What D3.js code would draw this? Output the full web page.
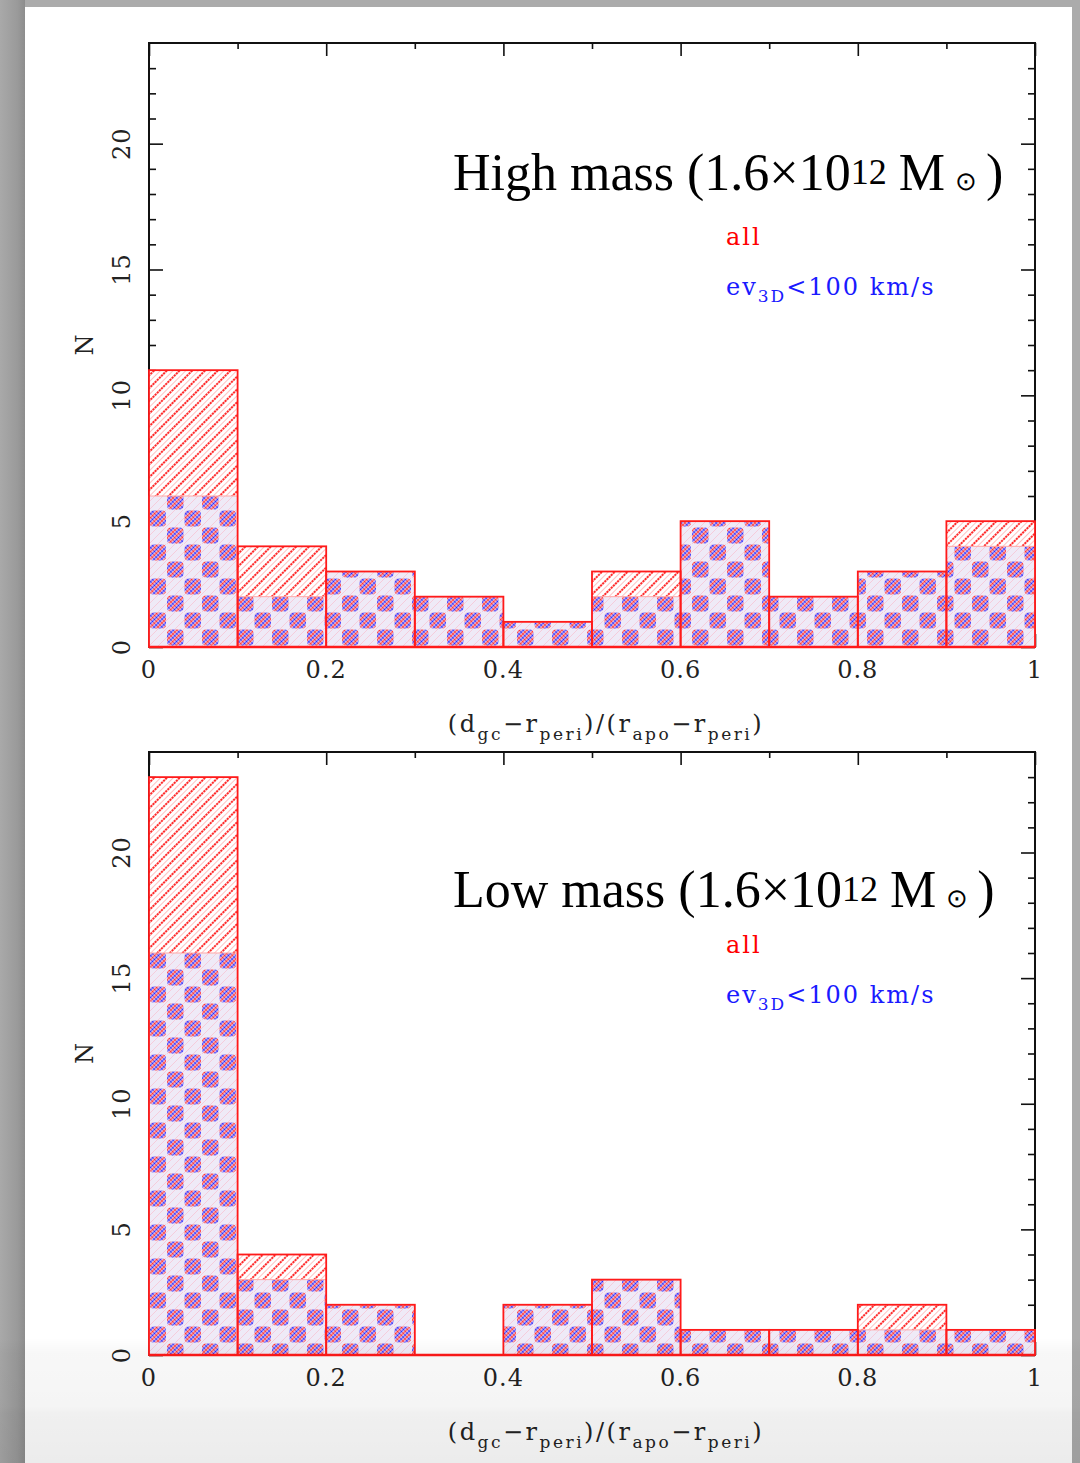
<!DOCTYPE html>
<html>
<head>
<meta charset="utf-8">
<script src="https://cdn.jsdelivr.net/npm/d3@7"></script>
<style>
  html, body { margin: 0; padding: 0; background: #ababab; }
  svg { display: block; }
</style>
</head>
<body>
<script>
// Histogram bins: lower edge of each bin, width 0.1
const binStarts = [0, 0.1, 0.2, 0.3, 0.4, 0.5, 0.6, 0.7, 0.8, 0.9];
const binWidth = 0.1;

// High mass halo: all satellites / those with ev_3D < 100 km/s
const highAll = [11, 4, 3, 2, 1, 3, 5, 2, 3, 5];
const highEv  = [6, 2, 3, 2, 1, 2, 5, 2, 3, 4];

// Low mass halo
const lowAll = [23, 4, 2, 0, 2, 3, 1, 1, 2, 1];
const lowEv  = [16, 3, 2, 0, 2, 3, 1, 1, 1, 1];

// Axis ticks and labels
const xTickValues = [0, 0.2, 0.4, 0.6, 0.8, 1];
const xTickLabels = ["0", "0.2", "0.4", "0.6", "0.8", "1"];
const xMinorTicks = [0.1, 0.3, 0.5, 0.7, 0.9];
const yTickValues = [0, 5, 10, 15, 20];
const yTickLabels = ["0", "5", "10", "15", "20"];
const yMinorTicks = [1,2,3,4,6,7,8,9,11,12,13,14,16,17,18,19,21,22,23];
const yDomain = [0, 24];

const W = 1080, H = 1463;
const svg = d3.select("body").append("svg")
  .attr("width", W).attr("height", H)
  .attr("viewBox", `0 0 ${W} ${H}`);

const defs = svg.append("defs");

// Left page-edge shadow
const sh = defs.append("linearGradient").attr("id", "leftShadow")
  .attr("x1", 0).attr("x2", 1).attr("y1", 0).attr("y2", 0);
sh.append("stop").attr("offset", "0%").attr("stop-color", "#a9a9a9");
sh.append("stop").attr("offset", "70%").attr("stop-color", "#9a9a9a");
sh.append("stop").attr("offset", "100%").attr("stop-color", "#8d8d8d");

// Bottom reflection fade
const fade = defs.append("linearGradient").attr("id", "bottomFade")
  .attr("x1", 0).attr("x2", 0).attr("y1", 0).attr("y2", 1);
fade.append("stop").attr("offset", "0%").attr("stop-color", "#000").attr("stop-opacity", 0);
fade.append("stop").attr("offset", "12%").attr("stop-color", "#000").attr("stop-opacity", 0.03);
fade.append("stop").attr("offset", "55%").attr("stop-color", "#000").attr("stop-opacity", 0.04);
fade.append("stop").attr("offset", "60%").attr("stop-color", "#000").attr("stop-opacity", 0.06);
fade.append("stop").attr("offset", "100%").attr("stop-color", "#000").attr("stop-opacity", 0.075);

// Red diagonal hatching for the "all" histogram
const hw = 9;
const hatch = defs.append("pattern").attr("id", "hatchRed")
  .attr("patternUnits", "userSpaceOnUse")
  .attr("width", hw).attr("height", hw)
  .attr("patternTransform", "rotate(45)");
hatch.append("rect").attr("width", hw).attr("height", hw).attr("fill", "#fff");
hatch.append("line").attr("x1", 2).attr("x2", 2).attr("y1", 0).attr("y2", hw)
  .attr("stroke", "#ff2020").attr("stroke-width", 1.9)
  .attr("stroke-dasharray", "2.2,0.8");
hatch.append("line").attr("x1", 6.5).attr("x2", 6.5).attr("y1", 0).attr("y2", hw)
  .attr("stroke", "#ffc2c2").attr("stroke-width", 1);

// Fine red/blue dot lines used inside the checker blobs
const dots = defs.append("pattern").attr("id", "dotLines")
  .attr("patternUnits", "userSpaceOnUse")
  .attr("width", 2.8).attr("height", 5.2)
  .attr("patternTransform", "rotate(-45)");
dots.append("rect").attr("width", 2.8).attr("height", 5.2).attr("fill", "#f3e0f0");
dots.append("circle").attr("cx", 1.4).attr("cy", 1.3).attr("r", 1.08).attr("fill", "#ff2424");
dots.append("circle").attr("cx", 1.4).attr("cy", 3.9).attr("r", 1.08).attr("fill", "#2424ff");

// Checkerboard of dot blobs for the ev_3D < 100 km/s histogram
const cw = 35, ch = 34;
const checker = defs.append("pattern").attr("id", "checker")
  .attr("patternUnits", "userSpaceOnUse")
  .attr("x", 149).attr("y", 0)
  .attr("width", cw).attr("height", ch);
checker.append("rect").attr("width", cw).attr("height", ch).attr("fill", "#efeaf7");
checker.append("path")
  .attr("d", "M0,8 L8,0 M0,17 L17,0 M0,26 L26,0 M0,34 L34,0 M9,34 L35,8 M18,34 L35,17 M27,34 L35,26")
  .attr("stroke", "#f6c8d8").attr("stroke-width", 0.9);
[[0.5, 0.5], [18, 17.5]].forEach(([bx, by]) => {
  checker.append("rect").attr("x", bx).attr("y", by)
    .attr("width", 16.5).attr("height", 16).attr("rx", 4)
    .attr("fill", "url(#dotLines)");
});

// Backdrop: grey surround and the white page
svg.append("rect").attr("width", W).attr("height", H).attr("fill", "#ababab");
svg.append("rect").attr("x", 0).attr("y", 0).attr("width", 25).attr("height", H)
  .attr("fill", "url(#leftShadow)");
svg.append("rect").attr("x", 25).attr("y", 7).attr("width", 1047).attr("height", H - 7)
  .attr("fill", "#ffffff");

const x = d3.scaleLinear().domain([0, 1]).range([149, 1035]);

const panels = [
  { top: 43, bottom: 647, all: highAll, ev: highEv, name: "High mass",
    titleY: 190, legendY: 245 },
  { top: 752, bottom: 1355, all: lowAll, ev: lowEv, name: "Low mass",
    titleY: 907, legendY: 953 }
];

const tickFont = "'DejaVu Serif', serif";

panels.forEach(p => {
  const y = d3.scaleLinear().domain(yDomain).range([p.bottom, p.top]);
  const g = svg.append("g");

  // Frame
  g.append("rect")
    .attr("x", x(0)).attr("y", y(yDomain[1]))
    .attr("width", x(1) - x(0)).attr("height", y(0) - y(yDomain[1]))
    .attr("fill", "none").attr("stroke", "#111").attr("stroke-width", 2);

  // Inward ticks on all four sides
  const tickStyle = sel => {
    sel.select(".domain").remove();
    sel.selectAll(".tick line").attr("stroke", "#111").attr("stroke-width", 1.6);
    sel.selectAll(".tick text").remove();
  };
  g.append("g").attr("transform", `translate(${x(0)},0)`)
    .call(d3.axisLeft(y).tickValues(yTickValues).tickSize(-14)).call(tickStyle);
  g.append("g").attr("transform", `translate(${x(0)},0)`)
    .call(d3.axisLeft(y).tickValues(yMinorTicks).tickSize(-7)).call(tickStyle);
  g.append("g").attr("transform", `translate(${x(1)},0)`)
    .call(d3.axisRight(y).tickValues(yTickValues).tickSize(-14)).call(tickStyle);
  g.append("g").attr("transform", `translate(${x(1)},0)`)
    .call(d3.axisRight(y).tickValues(yMinorTicks).tickSize(-7)).call(tickStyle);
  g.append("g").attr("transform", `translate(0,${y(yDomain[1])})`)
    .call(d3.axisTop(x).tickValues(xTickValues).tickSize(-13)).call(tickStyle);
  g.append("g").attr("transform", `translate(0,${y(yDomain[1])})`)
    .call(d3.axisTop(x).tickValues(xMinorTicks).tickSize(-6)).call(tickStyle);
  g.append("g").attr("transform", `translate(0,${y(0)})`)
    .call(d3.axisBottom(x).tickValues(xTickValues).tickSize(-13)).call(tickStyle);

  const binsAll = binStarts.map((b, i) => ({ x0: b, x1: b + binWidth, n: p.all[i] }));
  const binsEv = binStarts.map((b, i) => ({ x0: b, x1: b + binWidth, n: p.ev[i] }));

  // "all" histogram: hatched fill
  g.selectAll("rect.allFill").data(binsAll.filter(d => d.n > 0)).join("rect")
    .attr("class", "allFill")
    .attr("x", d => x(d.x0)).attr("y", d => y(d.n))
    .attr("width", d => x(d.x1) - x(d.x0)).attr("height", d => y(0) - y(d.n))
    .attr("fill", "url(#hatchRed)");

  // ev_3D < 100 km/s histogram: checker fill
  g.selectAll("rect.evFill").data(binsEv.filter(d => d.n > 0)).join("rect")
    .attr("class", "evFill")
    .attr("x", d => x(d.x0)).attr("y", d => y(d.n))
    .attr("width", d => x(d.x1) - x(d.x0)).attr("height", d => y(0) - y(d.n))
    .attr("fill", "url(#checker)")
    .attr("stroke", "#ffa8a8").attr("stroke-width", 1);

  // "all" outlines
  g.selectAll("rect.allLine").data(binsAll.filter(d => d.n > 0)).join("rect")
    .attr("class", "allLine")
    .attr("x", d => x(d.x0)).attr("y", d => y(d.n))
    .attr("width", d => x(d.x1) - x(d.x0)).attr("height", d => y(0) - y(d.n))
    .attr("fill", "none").attr("stroke", "#ff1a1a").attr("stroke-width", 1.8);
  g.append("line")
    .attr("x1", x(0)).attr("x2", x(1)).attr("y1", y(0)).attr("y2", y(0))
    .attr("stroke", "#ff1a1a").attr("stroke-width", 2.6);

  // Tick labels
  g.selectAll("text.xl").data(xTickValues).join("text")
    .attr("class", "xl")
    .attr("x", d => x(d)).attr("y", y(0) + 31)
    .attr("text-anchor", "middle")
    .attr("font-family", tickFont).attr("font-size", 24).attr("letter-spacing", 1)
    .attr("fill", "#222")
    .text((d, i) => xTickLabels[i]);
  g.selectAll("text.yl").data(yTickValues).join("text")
    .attr("class", "yl")
    .attr("transform", d => `translate(122,${y(d)}) rotate(-90)`)
    .attr("text-anchor", "middle").attr("dominant-baseline", "central")
    .attr("font-family", tickFont).attr("font-size", 24).attr("letter-spacing", 1)
    .attr("fill", "#222")
    .text((d, i) => yTickLabels[i]);

  // Axis titles
  g.append("text")
    .attr("transform", `translate(85,${y(12)}) rotate(-90)`)
    .attr("text-anchor", "middle").attr("dominant-baseline", "central")
    .attr("font-family", tickFont).attr("font-size", 24).attr("fill", "#222")
    .text("N");

  const xt = g.append("text")
    .attr("x", 606).attr("y", y(0) + 85)
    .attr("text-anchor", "middle")
    .attr("font-family", tickFont).attr("font-size", 24).attr("letter-spacing", 2.5)
    .attr("fill", "#222");
  const parts = [
    ["(d", 0], ["gc", 1], ["\u2212r", 0], ["peri", 1],
    [")/(r", 0], ["apo", 1], ["\u2212r", 0], ["peri", 1], [")", 0]
  ];
  let lowered = false;
  parts.forEach(([t, sub]) => {
    const ts = xt.append("tspan").text(t);
    if (sub && !lowered) { ts.attr("dy", 8).attr("font-size", 17); lowered = true; }
    else if (sub) { ts.attr("font-size", 17); }
    else if (lowered) { ts.attr("dy", -8); lowered = false; }
  });

  // Panel title
  const title = g.append("text")
    .attr("x", 453).attr("y", p.titleY)
    .attr("font-family", "'Liberation Serif', 'Times New Roman', serif")
    .attr("font-size", 52).attr("fill", "#000");
  title.append("tspan").text(`${p.name} (1.6\u00d710`);
  title.append("tspan").attr("font-size", 36).attr("dy", -6).text("12");
  title.append("tspan").attr("dy", 6).attr("dx", 12).text("M");
  title.append("tspan").attr("font-size", 26).attr("dx", 10).text("\u2299");
  title.append("tspan").attr("dx", 9).text(")");

  // Legend
  g.append("text")
    .attr("x", 726).attr("y", p.legendY)
    .attr("font-family", tickFont).attr("font-size", 24).attr("letter-spacing", 2)
    .attr("fill", "#ff0000")
    .text("all");
  const lg = g.append("text")
    .attr("x", 726).attr("y", p.legendY + 50)
    .attr("font-family", tickFont).attr("font-size", 24).attr("letter-spacing", 2)
    .attr("fill", "#1a1aff");
  lg.append("tspan").text("ev");
  lg.append("tspan").attr("dy", 7).attr("font-size", 17).text("3D");
  lg.append("tspan").attr("dy", -7).text("<100 km/s");
});

// Reflection fade along the bottom of the page
svg.append("rect").attr("x", 0).attr("y", 1338).attr("width", W).attr("height", H - 1338)
  .attr("fill", "url(#bottomFade)");
</script>
</body>
</html>
